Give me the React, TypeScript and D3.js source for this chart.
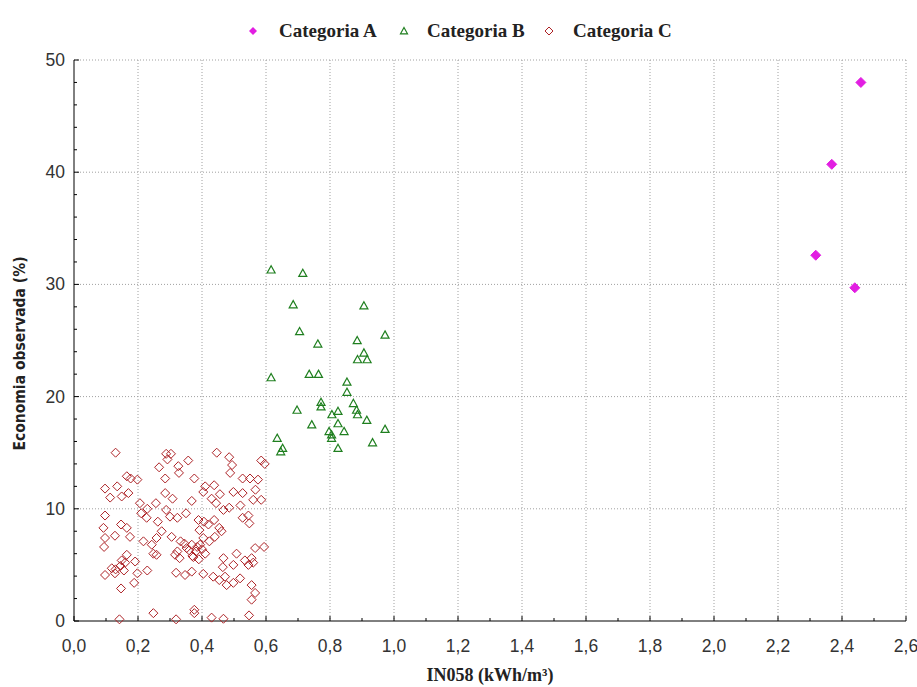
import React from "react";
import * as d3 from "d3";

const seriesNames = ["Categoria A", "Categoria B", "Categoria C"];

const catA: [number, number][] = [
  [2.459, 48.0], [2.368, 40.7], [2.318, 32.6], [2.44, 29.7],
];

const catB: [number, number][] = [
  [0.616, 31.3], [0.715, 31.0], [0.685, 28.2], [0.906, 28.1], [0.705, 25.8],
  [0.972, 25.5], [0.762, 24.7], [0.885, 25.0], [0.906, 23.9], [0.886, 23.3],
  [0.916, 23.3], [0.616, 21.7], [0.735, 22.0], [0.764, 22.0], [0.853, 21.3],
  [0.853, 20.4], [0.772, 19.5], [0.772, 19.1], [0.697, 18.8], [0.873, 19.4],
  [0.883, 18.8], [0.886, 18.4], [0.825, 18.7], [0.806, 18.4], [0.915, 17.9],
  [0.743, 17.5], [0.825, 17.6], [0.972, 17.1], [0.797, 16.9], [0.844, 16.9],
  [0.805, 16.3], [0.825, 15.4], [0.933, 15.9], [0.635, 16.3], [0.652, 15.4],
  [0.646, 15.1], [0.805, 16.6],
];

const catC: [number, number][] = [
  [0.13, 15.0], [0.288, 14.9], [0.303, 14.9], [0.446, 15.0], [0.485, 14.6],
  [0.292, 14.4], [0.357, 14.3], [0.585, 14.3], [0.596, 14.0], [0.266, 13.7],
  [0.326, 13.8], [0.494, 13.9], [0.328, 13.2], [0.488, 13.2], [0.165, 12.9],
  [0.177, 12.7], [0.198, 12.6], [0.285, 12.7], [0.376, 12.7], [0.527, 12.7],
  [0.55, 12.7], [0.575, 12.6], [0.135, 12.0], [0.097, 11.8], [0.41, 12.0],
  [0.438, 12.1], [0.567, 11.7], [0.113, 11.0], [0.149, 11.1], [0.17, 11.4],
  [0.285, 11.4], [0.308, 10.9], [0.404, 11.5], [0.43, 10.9], [0.456, 11.3],
  [0.498, 11.5], [0.527, 11.4], [0.56, 10.8], [0.585, 10.8], [0.206, 10.5],
  [0.256, 10.5], [0.368, 10.7], [0.444, 10.5], [0.485, 10.1], [0.097, 9.4],
  [0.229, 10.0], [0.227, 9.2], [0.288, 9.9], [0.3, 9.3], [0.323, 9.2],
  [0.262, 8.85], [0.389, 9.0], [0.406, 8.85], [0.438, 9.0], [0.467, 9.9],
  [0.454, 8.3], [0.527, 9.2], [0.545, 9.4], [0.548, 8.7], [0.092, 8.3],
  [0.147, 8.6], [0.165, 8.3], [0.175, 7.5], [0.128, 7.6], [0.097, 7.4],
  [0.094, 6.6], [0.217, 7.1], [0.243, 6.8], [0.258, 7.4], [0.274, 8.0],
  [0.305, 7.5], [0.333, 7.1], [0.352, 6.5], [0.368, 6.8], [0.381, 6.2],
  [0.394, 6.8], [0.404, 7.4], [0.392, 8.1], [0.423, 7.1], [0.44, 7.5],
  [0.461, 8.0], [0.508, 6.0], [0.534, 5.4], [0.555, 5.6], [0.566, 6.5],
  [0.594, 6.6], [0.248, 6.0], [0.258, 5.9], [0.316, 5.9], [0.323, 6.2],
  [0.373, 5.7], [0.467, 5.6], [0.498, 5.0], [0.165, 5.9], [0.191, 5.3],
  [0.149, 5.4], [0.118, 4.7], [0.097, 4.1], [0.128, 4.25], [0.156, 4.5],
  [0.198, 4.25], [0.229, 4.5], [0.188, 3.4], [0.147, 2.9], [0.319, 4.3],
  [0.347, 4.1], [0.368, 4.4], [0.404, 4.2], [0.435, 3.95], [0.454, 3.65],
  [0.472, 3.95], [0.477, 3.2], [0.498, 3.4], [0.519, 3.8], [0.555, 3.2],
  [0.566, 2.5], [0.555, 1.9], [0.465, 4.8], [0.142, 0.15], [0.248, 0.7],
  [0.319, 0.15], [0.376, 1.0], [0.376, 0.7], [0.43, 0.3], [0.467, 0.2],
  [0.547, 0.5], [0.36, 6.3], [0.37, 5.8], [0.385, 6.6], [0.39, 5.5],
  [0.41, 6.0], [0.345, 6.9], [0.33, 5.6], [0.4, 6.4], [0.13, 4.6],
  [0.145, 4.9], [0.16, 5.2], [0.56, 5.2], [0.545, 5.0], [0.42, 8.6],
  [0.21, 9.6], [0.35, 9.6], [0.52, 10.3],
];

const xMajor = d3.range(0, 2.6001, 0.2);
const xMinor = d3.range(0.1, 2.6, 0.2);
const yMajor = [0, 10, 20, 30, 40, 50];
const yMinor = d3.range(2, 50, 2).filter((v) => v % 10 !== 0);

const colA = "#e21ee2";
const colB = "#1f7f1f";
const colC = "#ad2226";

const fmt = (v: number) => v.toFixed(1).replace(".", ",");

function diamond(cx: number, cy: number, r: number) {
  return `M${cx},${cy - r}L${cx + r},${cy}L${cx},${cy + r}L${cx - r},${cy}Z`;
}
function triangle(cx: number, cy: number, r: number) {
  return `M${cx},${cy - r}L${cx + r},${cy + r * 0.8}L${cx - r},${cy + r * 0.8}Z`;
}

export default function App() {
  const W = 917;
  const H = 687;
  const left = 74;
  const right = 906;
  const top = 60;
  const bottom = 621;
  const x = d3.scaleLinear().domain([0, 2.6]).range([left, right]);
  const y = d3.scaleLinear().domain([0, 50]).range([bottom, top]);

  const tickFont = "'Liberation Sans', Arial, sans-serif";
  const serif = "'Liberation Serif', 'Times New Roman', serif";

  return (
    <svg width={W} height={H} style={{ position: "absolute", left: 0, top: 0, background: "#fff" }}>
      <rect x={0} y={0} width={W} height={H} fill="#fff" />
      {/* grid */}
      {xMajor.slice(1).map((v) => (
        <line key={"gx" + v} x1={x(v)} x2={x(v)} y1={top} y2={bottom} stroke="#a0a0a0" strokeDasharray="1,2" />
      ))}
      {yMajor.slice(1).map((v) => (
        <line key={"gy" + v} x1={left} x2={right} y1={y(v)} y2={y(v)} stroke="#a0a0a0" strokeDasharray="1,2" />
      ))}
      {/* axes */}
      <line x1={left} x2={left} y1={top} y2={bottom} stroke="#000" />
      <line x1={left} x2={right} y1={bottom} y2={bottom} stroke="#000" />
      {xMajor.map((v) => (
        <line key={"xt" + v} x1={x(v)} x2={x(v)} y1={bottom} y2={bottom - 5} stroke="#000" />
      ))}
      {xMinor.map((v) => (
        <line key={"xm" + v} x1={x(v)} x2={x(v)} y1={bottom} y2={bottom - 3} stroke="#000" />
      ))}
      {yMajor.map((v) => (
        <line key={"yt" + v} x1={left} x2={left + 5} y1={y(v)} y2={y(v)} stroke="#000" />
      ))}
      {yMinor.map((v) => (
        <line key={"ym" + v} x1={left} x2={left + 3} y1={y(v)} y2={y(v)} stroke="#000" />
      ))}
      {xMajor.map((v) => (
        <text key={"xl" + v} x={x(v)} y={bottom + 31} textAnchor="middle" fontFamily={tickFont} fontSize={17.5} fill="#333">
          {fmt(v)}
        </text>
      ))}
      {yMajor.map((v) => (
        <text key={"yl" + v} x={left - 9} y={y(v) + 6} textAnchor="end" fontFamily={tickFont} fontSize={17.5} fill="#333">
          {v}
        </text>
      ))}
      {/* axis titles */}
      <text x={490} y={681} textAnchor="middle" fontFamily={serif} fontWeight="bold" fontSize={18} fill="#222">
        IN058 (kWh/m³)
      </text>
      <text
        transform={`translate(25,${(top + bottom) / 2 + 13}) rotate(-90)`}
        textAnchor="middle"
        fontFamily="'DejaVu Sans Condensed', 'DejaVu Sans', sans-serif"
        fontWeight="bold"
        fontSize={15.5}
        fill="#222"
      >
        Economia observada (%)
      </text>
      {/* points */}
      {catC.map((d, i) => (
        <path key={"c" + i} d={diamond(x(d[0]), y(d[1]), 4.5)} fill="none" stroke={colC} strokeWidth={1} />
      ))}
      {catB.map((d, i) => (
        <path key={"b" + i} d={triangle(x(d[0]), y(d[1]), 4)} fill="none" stroke={colB} strokeWidth={1.2} />
      ))}
      {catA.map((d, i) => (
        <path key={"a" + i} d={diamond(x(d[0]), y(d[1]), 5)} fill={colA} stroke={colA} />
      ))}
      {/* legend */}
      <path d={diamond(253, 31, 4)} fill={colA} />
      <text x={279} y={37} fontFamily={serif} fontWeight="bold" fontSize={19} fill="#222">{seriesNames[0]}</text>
      <path d={triangle(404, 31, 3.5)} fill="none" stroke={colB} strokeWidth={1.2} />
      <text x={427} y={37} fontFamily={serif} fontWeight="bold" fontSize={19} fill="#222">{seriesNames[1]}</text>
      <path d={diamond(549, 31, 4)} fill="none" stroke={colC} />
      <text x={573} y={37} fontFamily={serif} fontWeight="bold" fontSize={19} fill="#222">{seriesNames[2]}</text>
    </svg>
  );
}
